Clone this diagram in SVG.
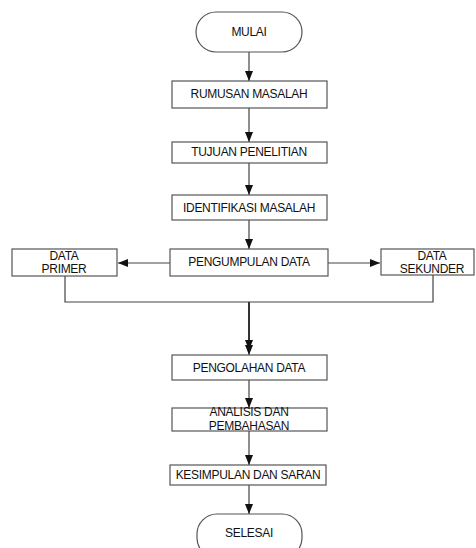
<svg xmlns="http://www.w3.org/2000/svg" width="476" height="548" viewBox="0 0 476 548">
<style>
.b{fill:#fff;stroke:#555;stroke-width:1.2}
.t{font-family:"Liberation Sans",Arial,sans-serif;font-size:12px;letter-spacing:-0.3px;fill:#111;text-anchor:middle}
.c{fill:none;stroke:#444;stroke-width:1.2}
.k{fill:none;stroke:#333;stroke-width:2}
</style>
<defs>
<marker id="a" markerUnits="userSpaceOnUse" markerWidth="10" markerHeight="10" viewBox="0 0 10 10" refX="10" refY="5" orient="auto">
<path d="M0,1 L10,5 L0,9 Z" fill="#111"/>
</marker>
</defs>
<rect width="476" height="548" fill="#fff"/>
<g id="connectors">
<path class="c" d="M249,52 V81" marker-end="url(#a)"/>
<path class="c" d="M249,108 V142" marker-end="url(#a)"/>
<path class="c" d="M249,163 V195" marker-end="url(#a)"/>
<path class="c" d="M249,220 V249" marker-end="url(#a)"/>
<path class="c" d="M170,263 H118" marker-end="url(#a)"/>
<path class="c" d="M328,263 H380" marker-end="url(#a)"/>
<path class="c" d="M65,276 V302 H433 V275"/>
<path class="k" d="M249,302 V350" marker-end="url(#a)"/>
<path class="c" d="M249,345 V355" marker-end="url(#a)"/>
<path class="c" d="M249,380 V408" marker-end="url(#a)"/>
<path class="c" d="M249,431 V465" marker-end="url(#a)"/>
<path class="c" d="M249,485 V514" marker-end="url(#a)"/>
</g>
<g id="mulai"><rect class="b" x="196" y="12" width="106" height="40" rx="20"/><text class="t" x="249" y="36">MULAI</text></g>
<g id="rumusan"><rect class="b" x="172" y="81" width="155" height="27"/><text class="t" x="249" y="98">RUMUSAN MASALAH</text></g>
<g id="tujuan"><rect class="b" x="172" y="142" width="155" height="21"/><text class="t" x="249" y="156">TUJUAN PENELITIAN</text></g>
<g id="identifikasi"><rect class="b" x="172" y="195" width="155" height="25"/><text class="t" x="249" y="212">IDENTIFIKASI MASALAH</text></g>
<g id="pengumpulan"><rect class="b" x="170" y="249" width="158" height="27"/><text class="t" x="249" y="266">PENGUMPULAN DATA</text></g>
<g id="primer"><rect class="b" x="12" y="249" width="105" height="27"/><text class="t" x="64" y="259.5">DATA</text><text class="t" x="64" y="273">PRIMER</text></g>
<g id="sekunder"><rect class="b" x="381" y="249" width="93" height="26"/><text class="t" x="432" y="259.5">DATA</text><text class="t" x="432" y="273">SEKUNDER</text></g>
<g id="pengolahan"><rect class="b" x="172" y="355" width="155" height="25"/><text class="t" x="249" y="372">PENGOLAHAN DATA</text></g>
<g id="analisis"><rect class="b" x="172" y="408" width="155" height="23"/><text class="t" x="249" y="416">ANALISIS DAN</text><text class="t" x="249" y="430">PEMBAHASAN</text></g>
<g id="kesimpulan"><rect class="b" x="170" y="465" width="156" height="20"/><text class="t" x="248" y="479">KESIMPULAN DAN SARAN</text></g>
<g id="selesai"><rect class="b" x="197" y="514" width="105" height="44" rx="20"/><text class="t" x="249" y="537">SELESAI</text></g>
</svg>
